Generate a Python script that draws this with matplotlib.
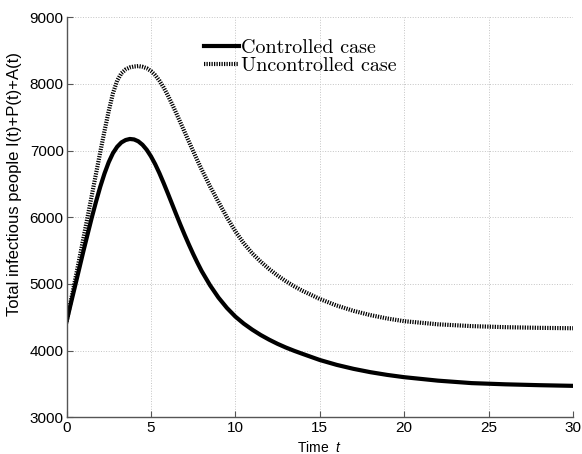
import matplotlib
matplotlib.use("Agg")
import matplotlib.pyplot as plt
from matplotlib.font_manager import FontProperties

plt.rcParams['font.family'] = ['Liberation Sans', 'DejaVu Sans']
plt.rcParams['mathtext.fontset'] = 'custom'
plt.rcParams['mathtext.it'] = 'Liberation Sans:italic'
plt.rcParams['mathtext.rm'] = 'Liberation Sans'

# values
t_ctrl = [0, 0.25, 0.5, 0.75, 1.0, 1.25, 1.5, 1.75, 2.0, 2.25, 2.5, 2.75, 3.0, 3.25, 3.5,
          3.75, 4.0, 4.25, 4.5, 4.75, 5.0, 5.25, 5.5, 5.75, 6.0, 6.25, 6.5, 6.75, 7.0,
          7.25, 7.5, 7.75, 8.0, 8.5, 9.0, 9.5, 10, 10.5, 11, 11.5, 12, 12.5, 13, 13.5,
          14, 15, 16, 17, 18, 19, 20, 22, 24, 26, 28, 30]
controlled = [4435, 4701, 4963, 5228, 5493, 5748, 6000, 6237, 6460, 6657, 6827, 6962,
              7058, 7123, 7159, 7175, 7168, 7140, 7088, 7013, 6915, 6798, 6663, 6515,
              6360, 6201, 6042, 5886, 5735, 5590, 5451, 5320, 5196, 4981, 4796, 4641,
              4511, 4405, 4315, 4235, 4165, 4102, 4046, 3996, 3950, 3860, 3787, 3727,
              3677, 3636, 3602, 3550, 3513, 3495, 3482, 3472]

t_unc = [0, 0.25, 0.5, 0.75, 1.0, 1.25, 1.5, 1.75, 2.0, 2.25, 2.5, 2.75, 3.0, 3.25, 3.5,
         3.75, 4.0, 4.25, 4.5, 4.75, 5.0, 5.25, 5.5, 5.75, 6.0, 6.25, 6.5, 6.75, 7.0,
         7.25, 7.5, 7.75, 8.0, 8.5, 9.0, 9.5, 10, 10.5, 11, 11.5, 12, 12.5, 13, 13.5,
         14, 15, 16, 17, 18, 19, 20, 22, 24, 26, 28, 30]
uncontrolled = [4435, 4740, 5050, 5365, 5685, 6008, 6333, 6658, 6980, 7295, 7595, 7860,
                8050, 8160, 8218, 8248, 8262, 8268, 8258, 8236, 8195, 8133, 8050, 7948,
                7830, 7700, 7562, 7420, 7277, 7134, 6993, 6855, 6720, 6465, 6230, 6000,
                5790, 5610, 5460, 5335, 5225, 5127, 5040, 4963, 4895, 4775, 4677, 4597,
                4533, 4482, 4442, 4395, 4368, 4352, 4342, 4336]

xticks = [0, 5, 10, 15, 20, 25, 30]
yticks = [3000, 4000, 5000, 6000, 7000, 8000, 9000]

fig = plt.figure(figsize=(5.82, 4.54), dpi=100)
ax = fig.add_axes([0.1143, 0.0808, 0.8702, 0.8811])

ax.plot(t_ctrl, controlled, color='k', lw=3, label='Controlled case',
        solid_joinstyle='round')
ax.plot(t_unc, uncontrolled, color='k', lw=3, ls=(0, (0.3, 0.3)),
        label='Uncontrolled case', dash_joinstyle='round')

ax.set_xlim(0, 30)
ax.set_ylim(3000, 9000)
ax.set_xticks(xticks)
ax.set_yticks(yticks)
ax.grid(True, ls=':', color='#c4c4c4', lw=0.7)
ax.set_axisbelow(True)

for s in ['top', 'right']:
    ax.spines[s].set_visible(False)
for s in ['left', 'bottom']:
    ax.spines[s].set_color('#555555')
    ax.spines[s].set_linewidth(1.0)
ax.tick_params(direction='in', length=4, width=0.8, color='#555555', labelsize=11)
ax.tick_params(axis='y', pad=2)
ax.tick_params(axis='x', pad=3)

ax.set_xlabel(r'Time  $t$', fontsize=10, labelpad=3)
ax.set_ylabel('Total infectious people I(t)+P(t)+A(t)', fontsize=12)
ax.yaxis.set_label_coords(-0.0885, 0.583)

leg = ax.legend(loc='upper left', bbox_to_anchor=(0.272, 0.945), frameon=False,
                prop=FontProperties(family='cmr10', size=14.5), handlelength=1.7,
                handletextpad=0.1, labelspacing=0.0, borderpad=0, borderaxespad=0)

fig.savefig('out.png', dpi=100)
